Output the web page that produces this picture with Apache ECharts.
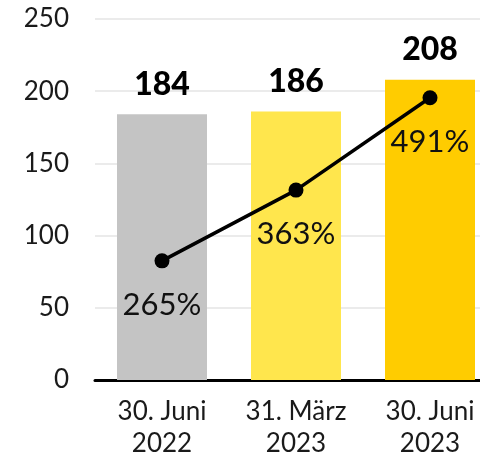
<!DOCTYPE html>
<html>
<head>
<meta charset="utf-8">
<script src="https://cdn.jsdelivr.net/npm/echarts@6/dist/echarts.min.js"></script>
<style>
  html, body { margin: 0; padding: 0; background: #fff; }
  #chart { width: 480px; height: 461px; }
</style>
</head>
<body>
<div id="chart"></div>
<script>
// Stichtage
var categories = ['30. Juni\n2022', '31. März\n2023', '30. Juni\n2023'];
// Balkenwerte
var barValues = [184, 186, 208];
// Quote in % (zweite, versteckte Achse)
var ratioValues = [265, 363, 491];
var yTicks = [0, 50, 100, 150, 200, 250];

var barColors = ['#c4c4c4', '#ffe64d', '#ffcc00'];
var fontName = 'Lato';

var myChart = echarts.init(document.getElementById('chart'));

var option = {
    animation: false,
    grid: {
        left: 95,
        width: 402,   // ragt rechts über den Rand hinaus, wie im Original
        top: 19,
        bottom: 81,
        containLabel: false,
        outerBoundsMode: 'none'
    },
    xAxis: [{
        type: 'category',
        data: categories,
        axisTick: { show: false },
        axisLine: {
            lineStyle: { color: '#000', width: 3 }
        },
        axisLabel: {
            color: '#1a1a1a',
            fontFamily: fontName,
            fontSize: 26,
            lineHeight: 32,
            margin: 16
        }
    }],
    yAxis: [{
        type: 'value',
        min: yTicks[0],
        max: yTicks[yTicks.length - 1],
        interval: 50,
        axisTick: { show: false },
        axisLine: { show: false },
        splitLine: {
            lineStyle: { color: '#ebebeb', width: 2 }
        },
        axisLabel: {
            color: '#1a1a1a',
            fontFamily: fontName,
            fontSize: 26,
            margin: 26
        }
    }, {
        type: 'value',
        min: 100,
        max: 600,
        show: false,
        splitLine: { show: false }
    }],
    series: [{
        type: 'bar',
        data: barValues,
        barWidth: 90,
        itemStyle: {
            color: function (p) { return barColors[p.dataIndex]; }
        },
        label: {
            show: true,
            position: 'top',
            distance: 14,
            color: '#000',
            fontFamily: fontName,
            fontWeight: 900,
            fontSize: 32
        }
    }, {
        type: 'line',
        yAxisIndex: 1,
        data: ratioValues,
        symbol: 'circle',
        symbolSize: 15,
        lineStyle: { color: '#000', width: 3.5 },
        itemStyle: { color: '#000' },
        label: {
            show: true,
            position: 'bottom',
            distance: 21,
            color: '#111',
            fontFamily: fontName,
            fontSize: 31,
            formatter: '{c}%'
        }
    }]
};
myChart.setOption(option);
</script>
</body>
</html>
